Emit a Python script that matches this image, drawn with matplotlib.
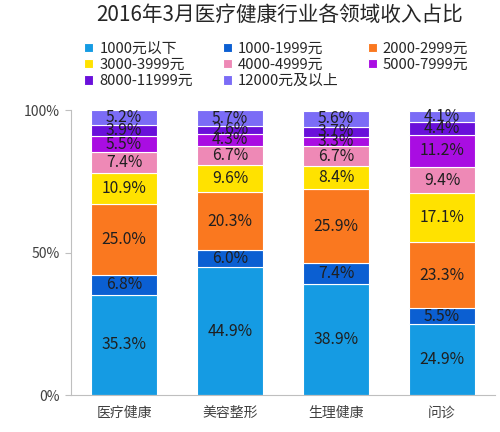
import matplotlib
matplotlib.use("Agg")
import matplotlib.pyplot as plt
import numpy as np

plt.rcParams['font.family'] = ['Noto Sans CJK SC', 'DejaVu Sans']

categories = ['医疗健康', '美容整形', '生理健康', '问诊']
series_names = ['1000元以下', '1000-1999元', '2000-2999元', '3000-3999元',
                '4000-4999元', '5000-7999元', '8000-11999元', '12000元及以上']
values = {
    '1000元以下':   [35.3, 44.9, 38.9, 24.9],
    '1000-1999元':  [6.8, 6.0, 7.4, 5.5],
    '2000-2999元':  [25.0, 20.3, 25.9, 23.3],
    '3000-3999元':  [10.9, 9.6, 8.4, 17.1],
    '4000-4999元':  [7.4, 6.7, 6.7, 9.4],
    '5000-7999元':  [5.5, 4.3, 3.3, 11.2],
    '8000-11999元': [3.9, 2.6, 3.7, 4.4],
    '12000元及以上': [5.2, 5.7, 5.6, 4.1],
}
colors = ['#159BE3', '#0B5FD2', '#FA781F', '#FFE200', '#EE89B6',
          '#A90DE2', '#6A10DA', '#7B6CF6']
yticks = [0, 50, 100]
yticklabels = ['0%', '50%', '100%']

fig = plt.figure(figsize=(5.0, 4.32), dpi=100)
ax = fig.add_axes([0.142, 0.0856, 0.848, 0.659])

x = np.arange(len(categories))
bottom = np.zeros(len(categories))
handles = []
for name, c in zip(series_names, colors):
    v = np.array(values[name])
    h = ax.bar(x, v, width=0.63, bottom=bottom, color=c, edgecolor='white',
               linewidth=0.8, label=name)
    handles.append(h)
    for xi, vi, bi in zip(x, v, bottom):
        ax.text(xi, bi + vi / 2, f'{vi:.1f}%', ha='center', va='center',
                fontsize=11.3, color='#1f1f1f')
    bottom += v

ax.set_xlim(-0.5, 3.5)
ax.set_ylim(0, 100)
ax.set_yticks(yticks)
ax.set_yticklabels(yticklabels, fontsize=10, color='#404040')
ax.set_xticks(x)
ax.set_xticklabels(categories, fontsize=10, color='#404040')
ax.tick_params(axis='x', length=0, pad=8)
ax.tick_params(axis='y', length=4, color='#BFBFBF', pad=4)
for s in ['top', 'right']:
    ax.spines[s].set_visible(False)
ax.spines['left'].set_color('#BFBFBF')
ax.spines['bottom'].set_color('#BFBFBF')

fig.text(0.56, 1 - 15 / 432, '2016年3月医疗健康行业各领域收入占比',
         ha='center', va='center', fontsize=14.9, color='#262626')

# legend laid out row by row (matplotlib fills columns first)
order = [0, 3, 6, 1, 4, 7, 2, 5]
leg = fig.legend(handles=[handles[i] for i in order],
                 labels=[series_names[i] for i in order], ncol=3,
                 loc='center', bbox_to_anchor=(0.553, 1 - 65 / 432),
                 frameon=False, fontsize=10.7, handlelength=0.6,
                 handleheight=0.6, handletextpad=0.4, columnspacing=2.0,
                 labelspacing=0.15, borderpad=0)
for t in leg.get_texts():
    t.set_color('#262626')

fig.savefig('out.png', dpi=100)
